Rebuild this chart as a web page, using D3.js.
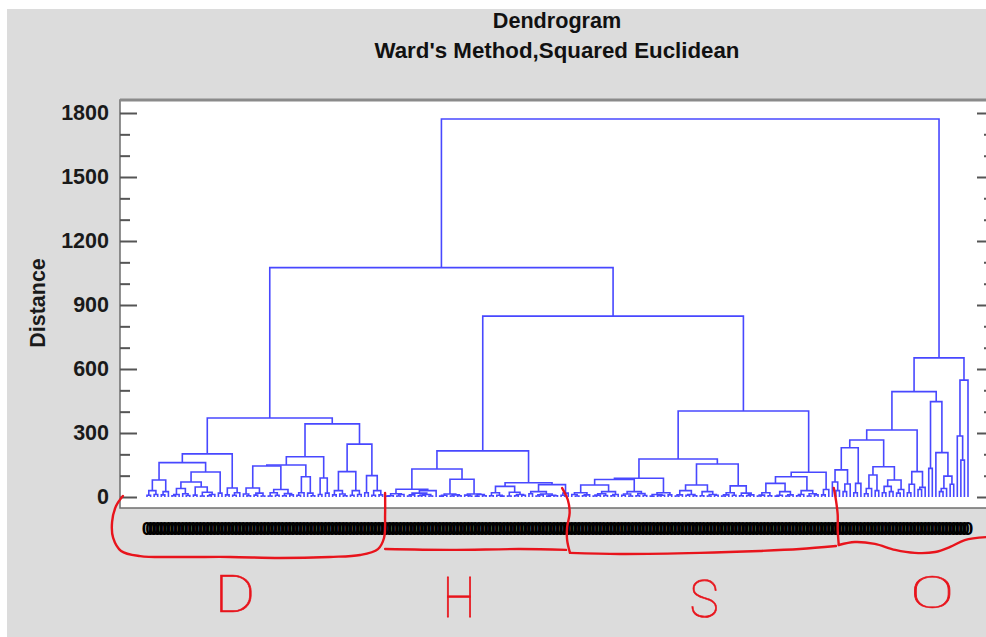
<!DOCTYPE html>
<html>
<head>
<meta charset="utf-8">
<script src="https://cdn.jsdelivr.net/npm/d3@7"></script>
<style>
  html, body { margin: 0; padding: 0; background: #ffffff; }
  svg { display: block; }
</style>
</head>
<body>
<svg id="chart" width="986" height="637"></svg>
<script>
// ---------------------------------------------------------------
// Data: merge trees written as "(child,child)height", leaf = x.
// ---------------------------------------------------------------
const clusterD = `
(
 (
  (
   (((x,x)8,(x,x)12)30,((x,x)10,x)25)80,
   (
    ((((x,x)6,x)12,(x,(x,x)7)15)40,((x,x)9,((x,x)5,((x,x)6,x)12)22)47)70,
    (x,x)18
   )117
  )161,
  ((x,x)10,((x,x)8,x)20)42
 )202,
 (
  (
   (
    (((x,(x,x)6)14,((x,x)9,(x,x)5)18)42,(((x,x)5,(x,x)8)20,((x,x)6,(x,x)10)16)35)145,
    (((x,x)8,x)20,(x,(x,x)6)18)95
   )150,
   ((x,x)12,(x,x)18)89
  )189,
  (
   (((x,x)10,(x,(x,x)6)14)30,((x,x)8,(x,x)12)30)119,
   ((x,x)20,((x,x)8,(x,x)10)30)100
  )248
 )343
)370`;

const clusterH = `
(
 (
  ((((x,x)4,x)6,((x,x)5,x)12)15,((((x,x)5,x)10,(((x,x)6,x)9,(x,x)5)12)18,x)30)36,
  ((((x,x)4,x)8,((x,x)5,(x,x)6)10)14,((x,(x,x)5)9,((x,x)4,(x,x)6)12)14)83
 )131,
 (
  (((x,x)6,(x,(x,x)4)8)20,((x,x)5,((x,x)6,(x,x)8)12)22)50,
  (((x,x)15,(((x,x)5,x)10,((x,x)4,(x,x)6)8)14)25,((x,x)8,x)18)58
 )67
)216`;

const clusterS = `
(
 (
  (
   (
    (((x,(x,x)5)12,((x,x)6,x)10)20,((((x,x)5,x)9,(x,x)7)15,((x,x)6,x)12)25)56,
    (((x,x)8,(x,x)5)14,((x,x)6,(x,x)7)16)25
   )82,
   (((x,x)4,((x,x)6,x)8)12,(x,x)10)20
  )88,
  (
   ((((x,x)5,x)10,((x,x)8,(x,x)6)12)30,((x,x)6,((x,x)5,(x,x)8)12)25)56,
   ((((x,x)5,x)10,(x,x)8)20,((x,x)6,((x,x)7,x)10)18)52
  )155
 )178,
 (
  (((((x,x)5,x)9,(x,x)6)20,(((x,x)4,x)8,((x,x)5,x)10)25)64,(((x,x)6,x)12,((x,x)5,(x,x)10)15)30)95,
  ((x,x)10,x)35
 )116
)403`;

const clusterO = `
(
 (
  (
   (
    (((x,(x,x)30)70,((x,x)25,x)61)127,((x,x)20,x)64)231,
    ((((x,x)15,x)40,(x,x)30)103,(((x,x)20,(x,x)25)50,((x,x)18,x)35)80)142
   )267,
   (((x,x)20,x)60,((x,x)35,x)45)119
  )314,
  ((x,x)134,(x,(((x,x)25,x)40,(x,x)60)98)208)447
 )494,
 ((x,(x,x)173)286,x)548
)652`;

// Upper merges joining the four groups
const upperNames   = ["HS", "DHS", "ALL"];
const upperLeft    = ["H", "D", "DHS"];
const upperRight   = ["S", "HS", "O"];
const upperHeights = [848, 1075, 1772];

const yTicksMajor = [0, 300, 600, 900, 1200, 1500, 1800];
const yTicksMinor = [100, 200, 400, 500, 700, 800, 1000, 1100, 1300, 1400, 1600, 1700];
const leafLabel = "0";

// Hand-drawn group annotation: [leaf position, distance]
const strokeD  = [[-6.76,5],[-8.67,-42],[-9.78,-117],[-9.48,-192],[-7.26,-253],[-1.92,-277],[9.28,-281],[23.3,-281],[37.2,-286],[51.2,-281],[59.7,-272],[64.7,-244],[66.4,-192],[66.7,-84],[66.7,19]];
const strokeH  = [[66.7,-244],[84.9,-248],[104.5,-244],[117.4,-248]];
const strokeS1 = [[116.3,42],[117.9,-14],[118.4,-75],[117.7,-141],[117.7,-202],[118.5,-262]];
const strokeS2 = [[118.5,-262],[132.5,-267],[154.9,-262],[171.7,-253],[182.9,-244],[193.0,-230]];
const strokeS3 = [[192.4,42],[193.0,-14],[193.5,-84],[193.5,-155],[193.8,-225]];
const strokeO  = [[193.8,-225],[198.3,-211],[203.9,-220],[209.6,-248],[215.1,-262],[220.8,-258],[225.0,-234],[229.1,-202],[235.1,-188]];
const groupLetters  = ["D", "H", "S", "O"];
const letterAnchor  = [[24.6,-539],[87.4,-564],[156.1,-562],[220,-520]];
const letterSize    = [52, 44, 52, 44];
const letterStretch = [[1.2, 1], [1.05, 1.25], [0.95, 1], [1.5, 1]];

// ---------------------------------------------------------------
function parseTree(src) {
  const s = src.replace(/\s+/g, "");
  const stack = [{ children: [] }];
  for (let i = 0; i < s.length; i++) {
    const c = s[i];
    if (c === "(") stack.push({ children: [] });
    else if (c === "x") stack[stack.length - 1].children.push({ height: 0 });
    else if (c === ")") {
      let j = i + 1;
      while (j < s.length && /[0-9.]/.test(s[j])) j++;
      const node = stack.pop();
      node.height = +s.slice(i + 1, j);
      stack[stack.length - 1].children.push(node);
      i = j - 1;
    }
  }
  return stack[0].children[0];
}

const parts = { D: parseTree(clusterD), H: parseTree(clusterH), S: parseTree(clusterS), O: parseTree(clusterO) };
upperNames.forEach((name, k) => {
  parts[name] = { height: upperHeights[k], children: [parts[upperLeft[k]], parts[upperRight[k]]] };
});

const root = d3.hierarchy(parts[upperNames[upperNames.length - 1]]);
const leaves = root.leaves();
leaves.forEach((l, k) => { l.pos = k; });

const x = d3.scaleLinear().domain([0, leaves.length - 1]).range([147, 968]);
const y = d3.scaleLinear().domain([0, 1800]).range([497, 113]);

root.eachAfter(n => {
  n.px = n.children ? (n.children[0].px + n.children[n.children.length - 1].px) / 2 : x(n.pos);
  n.py = y(n.data.height);
});

// ---------------------------------------------------------------
const svg = d3.select("#chart");
const FONT = "'Liberation Sans', Arial, Helvetica, sans-serif";

svg.append("rect").attr("x", 7).attr("y", 9).attr("width", 979).attr("height", 628).attr("fill", "#dcdcdc");

// plot frame
const frame = { left: 120, top: 100, right: 994, bottom: 508 };
svg.append("rect")
  .attr("x", frame.left).attr("y", frame.top)
  .attr("width", frame.right - frame.left).attr("height", frame.bottom - frame.top)
  .attr("fill", "#ffffff").attr("stroke", "#6e6e6e").attr("stroke-width", 1.5);
svg.append("line")
  .attr("x1", frame.left).attr("x2", frame.right).attr("y1", frame.top).attr("y2", frame.top)
  .attr("stroke", "#8a8a8a").attr("stroke-width", 3);

// titles
svg.append("text").attr("x", 557).attr("y", 28).attr("text-anchor", "middle")
  .attr("font-family", FONT).attr("font-weight", "bold").attr("font-size", 21.6).attr("fill", "#111")
  .text("Dendrogram");
svg.append("text").attr("x", 557).attr("y", 58).attr("text-anchor", "middle")
  .attr("font-family", FONT).attr("font-weight", "bold").attr("font-size", 22.3).attr("fill", "#111")
  .text("Ward's Method,Squared Euclidean");

// y axis (left, ticks point inward)
const axisMajor = d3.axisLeft(y).tickValues(yTicksMajor).tickSizeInner(-17).tickSizeOuter(0).tickPadding(11).tickFormat(d3.format("d"));
const gAxis = svg.append("g").attr("transform", `translate(${frame.left},0)`).call(axisMajor);
gAxis.select(".domain").remove();
gAxis.selectAll(".tick line").attr("stroke", "#555").attr("stroke-width", 2);
gAxis.selectAll(".tick text").attr("font-family", FONT).attr("font-weight", "bold").attr("font-size", 21.5).attr("fill", "#1a1a1a");

const axisMinor = d3.axisLeft(y).tickValues(yTicksMinor).tickSizeInner(-10).tickSizeOuter(0).tickFormat("");
const gMinor = svg.append("g").attr("transform", `translate(${frame.left},0)`).call(axisMinor);
gMinor.select(".domain").remove();
gMinor.selectAll(".tick line").attr("stroke", "#555").attr("stroke-width", 2);

// right axis
const axisRMajor = d3.axisRight(y).tickValues(yTicksMajor).tickSizeInner(-17).tickSizeOuter(0).tickFormat("");
const gR = svg.append("g").attr("transform", `translate(${frame.right},0)`).call(axisRMajor);
gR.select(".domain").remove();
gR.selectAll(".tick line").attr("stroke", "#555").attr("stroke-width", 2);
const axisRMinor = d3.axisRight(y).tickValues(yTicksMinor).tickSizeInner(-10).tickSizeOuter(0).tickFormat("");
const gR2 = svg.append("g").attr("transform", `translate(${frame.right},0)`).call(axisRMinor);
gR2.select(".domain").remove();
gR2.selectAll(".tick line").attr("stroke", "#555").attr("stroke-width", 2);

svg.append("text")
  .attr("transform", "translate(45,303) rotate(-90)")
  .attr("text-anchor", "middle")
  .attr("font-family", FONT).attr("font-weight", "bold").attr("font-size", 21.5).attr("fill", "#1a1a1a")
  .text("Distance");

// dendrogram links
const internal = root.descendants().filter(n => n.children);
svg.append("g")
  .selectAll("path")
  .data(internal)
  .join("path")
  .attr("d", n => {
    const a = n.children[0], b = n.children[n.children.length - 1];
    return `M${a.px},${a.py}V${n.py}H${b.px}V${b.py}`;
  })
  .attr("fill", "none")
  .attr("stroke", "#4848ff")
  .attr("stroke-width", 1.6);

// leaf labels: one text run, one glyph placed under each leaf
svg.append("text")
  .attr("x", leaves.map(d => d.px.toFixed(2)).join(" "))
  .attr("y", 535)
  .attr("text-anchor", "middle")
  .attr("font-family", FONT).attr("font-weight", "bold").attr("font-size", 19)
  .attr("fill", "#000")
  .text(leaves.map(() => leafLabel).join(""));

// group annotation
const pen = d3.line().x(d => x(d[0])).y(d => y(d[1])).curve(d3.curveCatmullRom.alpha(0.5));
const gAnn = svg.append("g").attr("fill", "none").attr("stroke", "#e8141c").attr("stroke-width", 2.4)
  .attr("stroke-linecap", "round").attr("stroke-linejoin", "round");
[strokeD, strokeH, strokeS1, strokeS2, strokeS3, strokeO].forEach(s => gAnn.append("path").attr("d", pen(s)));

svg.append("g")
  .selectAll("text")
  .data(groupLetters)
  .join("text")
  .attr("transform", (d, k) => `translate(${x(letterAnchor[k][0])},${y(letterAnchor[k][1])}) scale(${letterStretch[k][0]},${letterStretch[k][1]})`)
  .attr("text-anchor", "middle")
  .attr("font-family", "Roboto, 'DejaVu Sans', sans-serif")
  .attr("font-weight", 100)
  .attr("font-size", (d, k) => letterSize[k])
  .attr("fill", "#e8141c")
  .attr("stroke", "#e8141c")
  .attr("stroke-width", 0.6)
  .text(d => d);
</script>
</body>
</html>
